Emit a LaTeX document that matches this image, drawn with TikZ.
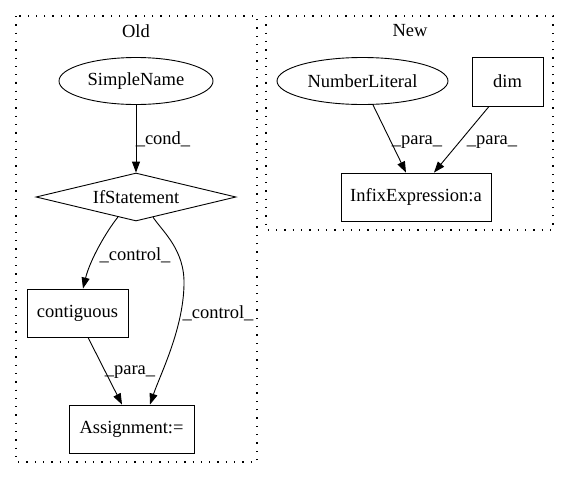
\documentclass[tikz,border=0pt]{standalone}
\usepackage{fontspec}
\setmainfont{Liberation Serif}
\usetikzlibrary{shapes.geometric,arrows.meta,calc}
\tikzset{
  lbl/.style={font=\fontsize{18.5}{20}\selectfont, inner sep=0pt},
  box/.style={draw, line width=0.9pt, rectangle, inner sep=0pt, font=\fontsize{18.5}{20}\selectfont},
  ell/.style={draw, line width=0.9pt, ellipse, inner sep=0pt, font=\fontsize{18.5}{20}\selectfont},
  dia/.style={draw, line width=0.9pt, diamond, aspect=4, inner sep=0pt, font=\fontsize{18.5}{20}\selectfont},
  cluster/.style={draw, line width=1.3pt, dash pattern=on 1.3pt off 7pt},
  edge/.style={draw, line width=0.9pt, -{Triangle[length=11pt,width=8pt]}},
}
\begin{document}
\begin{tikzpicture}[x=1pt,y=-1pt]
\useasboundingbox (0,0) rectangle (571,480);
% clusters
\draw[cluster] (16,16) rectangle (257,462);
\draw[cluster] (266,16) rectangle (553,230);
\node[lbl] (toldt) at (136,31) {Old};
\node[lbl] (tnew) at (410,31) {New};
% Old nodes
\node[ell, minimum width=154pt, minimum height=47pt] (sn) at (136,81) {SimpleName};
\node[dia, minimum width=200pt, minimum height=48pt] (if) at (136,197) {IfStatement};
\node[box, minimum width=101pt, minimum height=48pt] (contig) at (77.5,313) {contiguous};
\node[box, minimum width=125pt, minimum height=48pt] (asg) at (131.5,429) {Assignment:=};
% New nodes
\node[ell, minimum width=171pt, minimum height=47pt] (nl) at (362.5,81) {NumberLiteral};
\node[box, minimum width=71pt, minimum height=49pt] (dim) at (507.5,81.5) {dim};
\node[box, minimum width=150pt, minimum height=48pt] (inf) at (416,197) {InfixExpression:a};
% edges
\draw[edge] (sn.south) -- (if.north);
\node[lbl] (lcond) at (163,139) {\_cond\_};
\draw[edge] ($(if.south)!0.18!(if.west)$) .. controls (106,232) and (90,260) .. ($(contig.north)+(5.5,0)$);
\node[lbl] (lctl1) at (135,255) {\_control\_};
\draw[edge] ($(if.south)!0.17!(if.east)$) .. controls (163,232) and (185,250) .. (184,285) coordinate (mid)
   .. controls (183,330) and (160,375) .. ($(asg.north)+(18.5,0)$);
\node[lbl] (lctl2) at (218,313) {\_control\_};
\draw[edge] ($(contig.south)+(10.5,0)$) -- ($(asg.north)+(-9.5,0)$);
\node[lbl] (lpara) at (130,372) {\_para\_};
\draw[edge] ($(nl.south)+(10.5,0)$) -- ($(inf.north)+(-10,0)$);
\node[lbl] (lp1) at (417,142) {\_para\_};
\draw[edge] ($(dim.south)+(-18.5,0)$) -- ($(inf.north)+(18,0)$);
\node[lbl] (lp2) at (492,142) {\_para\_};
\end{tikzpicture}
\end{document}
